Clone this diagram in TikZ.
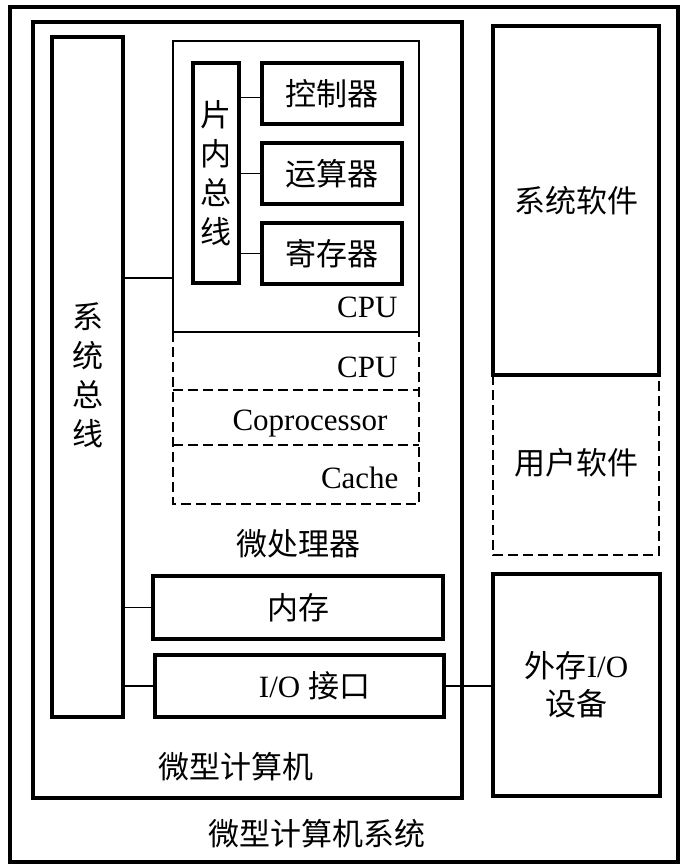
\documentclass[tikz,border=0pt]{standalone}
\usepackage{fontspec}
\setmainfont{Liberation Serif}
\newfontfamily\cjk{Noto Sans CJK SC}
\usepackage{tikz}
\usetikzlibrary{positioning}

\tikzset{
	blk/.style={draw, rectangle, line width=3.2pt, inner sep=0pt, outer sep=0pt, anchor=north west},
	thinblk/.style={blk, line width=1.6pt},
	dashblk/.style={line width=2.2pt, dash pattern=on 10pt off 5pt},
	wire/.style={line width=1.6pt},
	zh/.style={font=\cjk\fontsize{31}{39}\selectfont},
	en/.style={font=\fontsize{31}{38}\selectfont},
	unit/.style={blk, zh, minimum width=140pt, minimum height=61pt},
}

\begin{document}
\begin{tikzpicture}[x=1pt, y=-1pt]
	\useasboundingbox (0,0) rectangle (682,866);
	% outer frames
	\node[blk, minimum width=668pt, minimum height=855pt] (sys) at (10,7) {};
	\node[blk, minimum width=429pt, minimum height=776pt] (mc) at (33,22) {};
	% system bus
	\node[blk, minimum width=71pt, minimum height=680pt] (bus) at (52,37) {};
	\node[zh, align=center] (buslbl) at (88,375) {系\\统\\总\\线};
	% cpu
	\node[thinblk, minimum width=246pt, minimum height=291pt] (cpu) at (173,41) {};
	\node[blk, minimum width=46pt, minimum height=220pt] (ibus) at (193,63) {};
	\node[zh, align=center] (ibuslbl) at (216,173) {片\\内\\总\\线};
	\node[unit] (ctrl) at (262,63) {控制器};
	\node[unit, below=19pt of ctrl] (alu) {运算器};
	\node[unit, below=19pt of alu] (reg) {寄存器};
	\node[en, anchor=east] (cpulbl) at (401,307) {CPU};
	
	% dashed part of the microprocessor
	\coordinate (d1) at (173,390);
	\coordinate (d2) at (173,445);
	\coordinate (d3) at (173,504);
	\draw[dashblk] (cpu.south west) -- (d3) -- (cpu.south east |- d3) -- (cpu.south east);
	\draw[dashblk] (d1) -- (cpu.east |- d1);
	\draw[dashblk] (d2) -- (cpu.east |- d2);
	\node[en, anchor=east] (cpu2) at (401,367) {CPU};
	\node[en, anchor=east] (cop) at (391,424) {Coprocessor};
	\node[en, anchor=east] (cache) at (402,478) {Cache};
	\node[zh] (mplbl) at (298,544) {微处理器};
	
	% memory and io
	\node[blk, zh, minimum width=290pt, minimum height=63pt] (mem) at (153,576) {内存};
	\node[blk, minimum width=289pt, minimum height=62pt] (io) at (155,655) {};
	\node[en] (iolbl) at ([xshift=15pt]io.center) {I/O {\cjk\fontsize{31}{38}\selectfont 接口}};
	\node[zh] (mclbl) at (236,767) {微型计算机};
	
	% software and devices
	\node[blk, zh, minimum width=166pt, minimum height=349pt] (soft) at (493,26) {系统软件};
	\coordinate (u1) at (493,555);
	\draw[dashblk] (soft.south west) -- (u1) -- (soft.south east |- u1) -- (soft.south east);
	\node[zh] (usrlbl) at (576,463) {用户软件};
	\node[blk, align=center, font=\fontsize{31}{38}\selectfont, minimum width=167pt, minimum height=222pt] (ext) at (493,574) {{\cjk 外存}I/O\\{\cjk 设备}};
	\node[zh] (syslbl) at (317,834) {微型计算机系统};
	
	% connections
	\coordinate (tap) at (173,278);
	\coordinate (ctap) at ([yshift=-4pt]ctrl.west);
	\draw[wire] (tap) -- (bus.east |- tap);
	\draw[wire] (ctap) -- (ibus.east |- ctap);
	\draw[wire] (alu.west) -- (ibus.east |- alu.west);
	\draw[wire] (reg.west) -- (ibus.east |- reg.west);
	\draw[wire] (mem.west) -- (bus.east |- mem.west);
	\draw[wire] (io.west) -- (bus.east |- io.west);
	\draw[wire] (io.east) -- (ext.west |- io.east);
\end{tikzpicture}
\end{document}
